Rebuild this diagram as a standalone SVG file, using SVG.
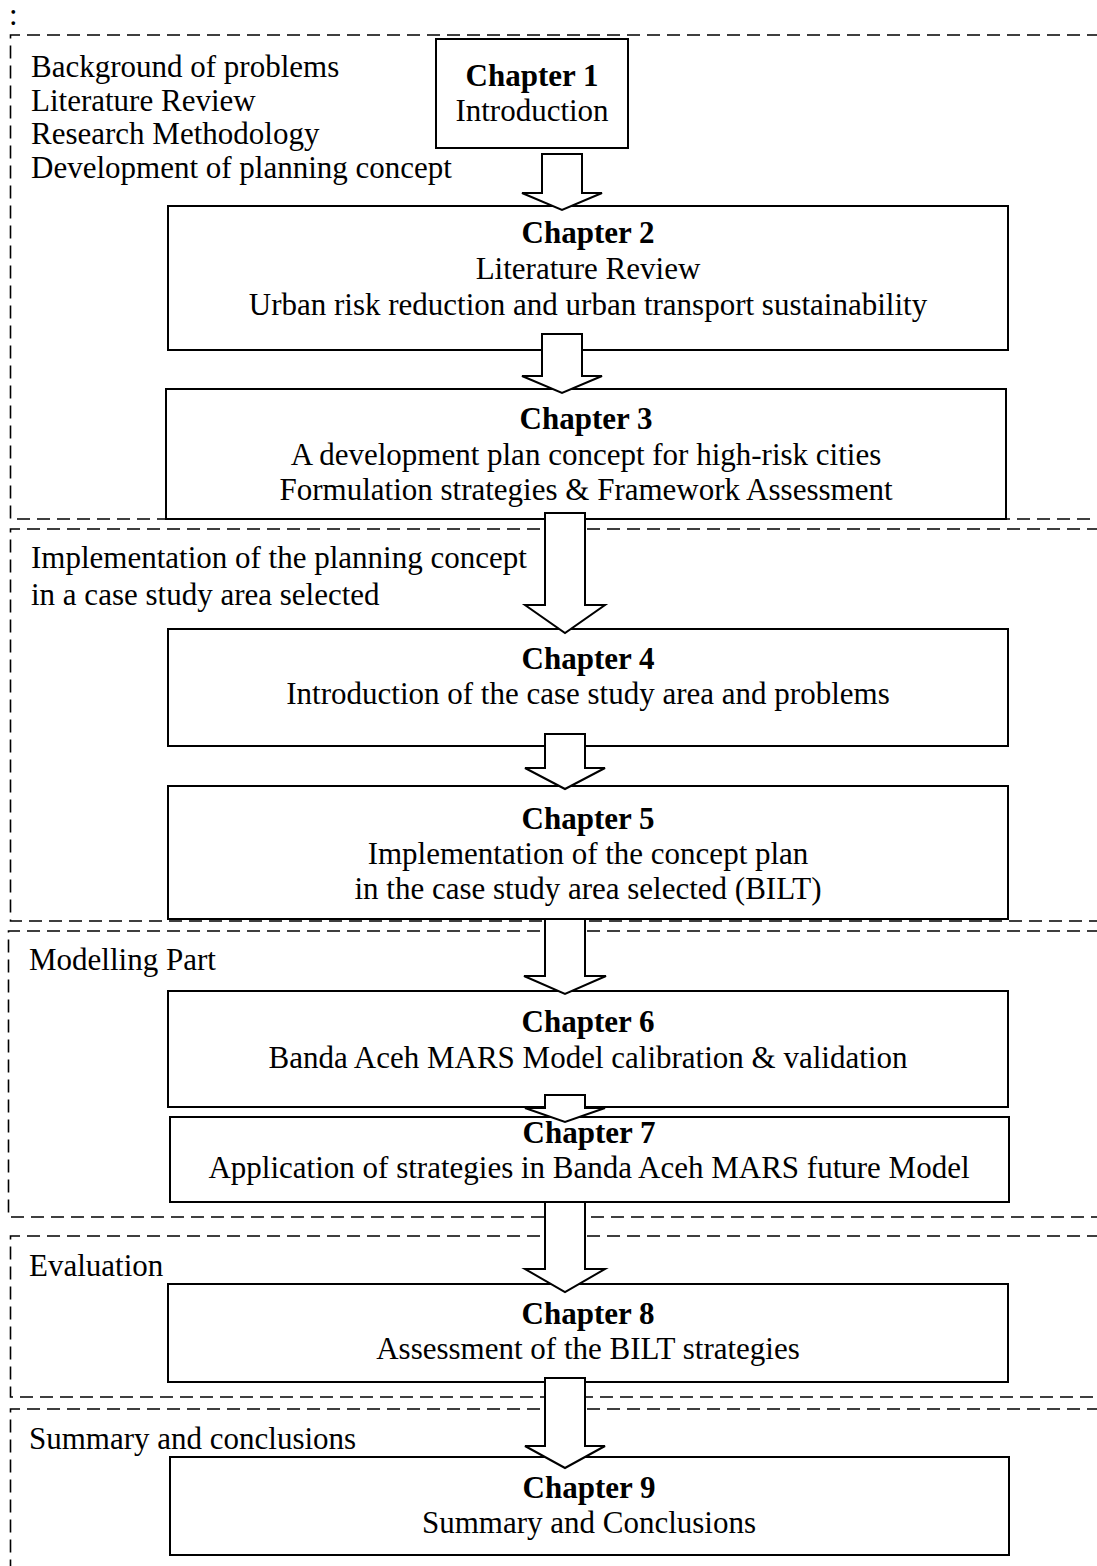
<svg xmlns="http://www.w3.org/2000/svg" width="1097" height="1566" viewBox="0 0 1097 1566">
  <style>
    .sec { fill: none; stroke: #000; stroke-width: 1.6; stroke-dasharray: 13 7; }
    .box { fill: none; stroke: #000; stroke-width: 2; }
    .arrow { fill: #fff; stroke: #000; stroke-width: 2; stroke-linejoin: miter; }
    text { font-family: "Liberation Serif", "Times New Roman", serif; font-size: 31px; fill: #000; }
    .c { text-anchor: middle; }
    .b { font-weight: bold; }
  </style>
  <rect width="1097" height="1566" fill="#fff"/>

  <text x="9" y="25" font-size="24">:</text>

  <!-- dashed section frames (open to the right edge) -->
  <g id="sections">
    <path class="sec" d="M1100,35 H10.5 V519 H1100"/>
    <path class="sec" d="M1100,529 H10.5 V921 H1100"/>
    <path class="sec" d="M1100,931 H8.5 V1217 H1100"/>
    <path class="sec" d="M1100,1236 H10.5 V1397 H1100"/>
    <path class="sec" d="M1100,1409 H10.5 V1570"/>
  </g>

  <!-- section labels -->
  <g id="labels">
    <text x="31" y="77">Background of problems</text>
    <text x="31" y="111">Literature Review</text>
    <text x="31" y="144">Research Methodology</text>
    <text x="31" y="178">Development of planning concept</text>
    <text x="31" y="568">Implementation of the planning concept</text>
    <text x="31" y="605">in a case study area selected</text>
    <text x="29" y="970">Modelling Part</text>
    <text x="29" y="1276">Evaluation</text>
    <text x="29" y="1449">Summary and conclusions</text>
  </g>

  <g id="ch1">
    <rect class="box" x="436" y="39" width="192" height="109"/>
    <text class="c b" x="532" y="86">Chapter 1</text>
    <text class="c" x="532" y="121">Introduction</text>
  </g>
  <g id="ch2">
    <rect class="box" x="168" y="206" width="840" height="144"/>
    <text class="c b" x="588" y="243">Chapter 2</text>
    <text class="c" x="588" y="279">Literature Review</text>
    <text class="c" x="588" y="315">Urban risk reduction and urban transport sustainability</text>
  </g>
  <g id="ch3">
    <rect class="box" x="166" y="389" width="840" height="130"/>
    <text class="c b" x="586" y="429">Chapter 3</text>
    <text class="c" x="586" y="465">A development plan concept for high-risk cities</text>
    <text class="c" x="586" y="500">Formulation strategies &amp; Framework Assessment</text>
  </g>
  <g id="ch4">
    <rect class="box" x="168" y="629" width="840" height="117"/>
    <text class="c b" x="588" y="669">Chapter 4</text>
    <text class="c" x="588" y="704">Introduction of the case study area and problems</text>
  </g>
  <g id="ch5">
    <rect class="box" x="168" y="786" width="840" height="133"/>
    <text class="c b" x="588" y="829">Chapter 5</text>
    <text class="c" x="588" y="864">Implementation of the concept plan</text>
    <text class="c" x="588" y="899">in the case study area selected (BILT)</text>
  </g>
  <g id="ch6">
    <rect class="box" x="168" y="991" width="840" height="116"/>
    <text class="c b" x="588" y="1032">Chapter 6</text>
    <text class="c" x="588" y="1068">Banda Aceh MARS Model calibration &amp; validation</text>
  </g>
  <g id="ch7">
    <rect class="box" x="170" y="1117" width="839" height="85"/>
    <text class="c b" x="589" y="1143">Chapter 7</text>
    <text class="c" x="589" y="1178">Application of strategies in Banda Aceh MARS future Model</text>
  </g>
  <g id="ch8">
    <rect class="box" x="168" y="1284" width="840" height="98"/>
    <text class="c b" x="588" y="1324">Chapter 8</text>
    <text class="c" x="588" y="1359">Assessment of the BILT strategies</text>
  </g>
  <g id="ch9">
    <rect class="box" x="170" y="1457" width="839" height="98"/>
    <text class="c b" x="589" y="1498">Chapter 9</text>
    <text class="c" x="589" y="1533">Summary and Conclusions</text>
  </g>

  <!-- block arrows between chapters -->
  <g id="connectors">
    <polygon class="arrow" points="542,154 582,154 582,193 602,193 562,210 522,193 542,193"/>
    <polygon class="arrow" points="542,334 582,334 582,376 602,376 562,393 522,376 542,376"/>
    <polygon class="arrow" points="545,513 585,513 585,605 605,605 565,633 525,605 545,605"/>
    <polygon class="arrow" points="545,734 585,734 585,768 605,768 565,789 525,768 545,768"/>
    <polygon class="arrow" points="545,919 585,919 585,976 606,976 565,994 524,976 545,976"/>
    <polygon class="arrow" points="545,1095 585,1095 585,1108 605,1108 565,1122 525,1108 545,1108"/>
    <polygon class="arrow" points="545,1202 585,1202 585,1269 605,1269 565,1292 525,1269 545,1269"/>
    <polygon class="arrow" points="545,1378 585,1378 585,1446 605,1446 565,1468 525,1446 545,1446"/>
  </g>
</svg>
